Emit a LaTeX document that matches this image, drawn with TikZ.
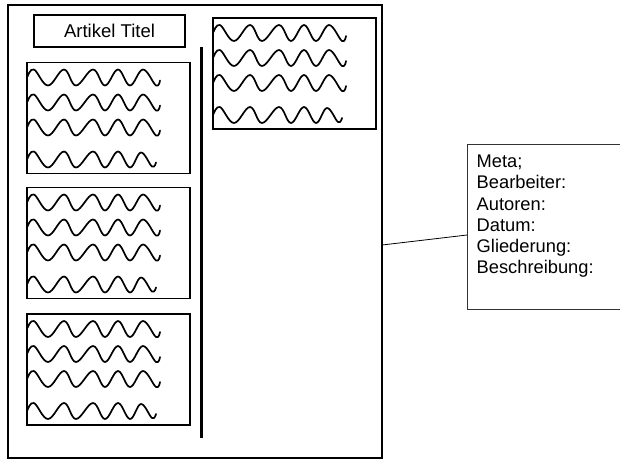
\documentclass[tikz,border=0pt]{standalone}
\usepackage{fontspec}
\setmainfont{Liberation Sans}
\begin{document}
\begin{tikzpicture}[x=1pt,y=-1pt,
  frame/.style={draw=black, line width=1.3pt, inner sep=0pt, outer sep=0pt, anchor=north west},
  textbox/.style={frame, minimum width=163pt, minimum height=111pt},
  wave/.style={line width=1.7pt, line cap=round, line join=round},
  pics/wavy/.style={code={
    \draw[wave] plot[smooth, tension=0.65] coordinates {(0.5,-1) (7,-8) (21,8) (37,-8) (49,8) (66,-8) (78,8) (91,-8) (103,8) (116,-8) (129,8) (133,3)};
  }},
  pics/wavyshort/.style={code={
    \draw[wave] plot[smooth, tension=0.65] coordinates {(0.5,-1) (7,-8) (21,8) (37,-8) (49,8) (66,-8) (78,8) (91,-8) (103,8) (114,-7) (125,7) (129,3)};
  }},
  pics/para/.style={code={
    \pic at (0,15) {wavy};
    \pic at (0,40) {wavy};
    \pic at (0,65) {wavy};
    \pic at (0,97) {wavyshort};
  }}
]
\clip (0,0) rectangle (620,459);
\fill[white] (0,0) rectangle (620,459);

% page
\node[frame, line width=1.1pt, minimum width=374pt, minimum height=453pt] (page) at (8,5) {};
% title
\node[frame, minimum width=151pt, minimum height=32pt] (title) at (34,15) {};
\node[font=\fontsize{18.5pt}{21pt}\selectfont, anchor=base, inner sep=0pt] (titletext) at (109.5,37) {Artikel Titel};

% left column boxes
\node[textbox] (b1) at (27,62.5) {};
\node[textbox] (b2) at (27,187.5) {};
\node[textbox] (b3) at (27,314) {};
% right column box
\node[textbox] (b4) at (213,18) {};

\pic at (b1.north west) {para};
\pic at (b2.north west) {para};
\pic at (b3.north west) {para};
\pic at (b4.north west) {para};

% column separator
\coordinate (sepTop) at (201,47);
\coordinate (sepBot) at (201,438);
\draw[line width=3pt] (sepTop) -- (sepBot);

% meta box
\node[draw=black!80, line width=0.9pt, anchor=north west, minimum width=170pt, minimum height=165pt, inner sep=0pt] (meta) at (467,143.5) {};
\node[anchor=north west, align=left, font=\fontsize{18.3pt}{21.2pt}\selectfont, inner sep=0pt] (metatext) at (476.5,154.9) {Meta;\\Bearbeiter:\\Autoren:\\Datum:\\Gliederung:\\Beschreibung:};

\coordinate (cstart) at (382,245);
\draw[line width=0.8pt] (cstart) -- (meta.west |- 0,235);
\end{tikzpicture}
\end{document}
